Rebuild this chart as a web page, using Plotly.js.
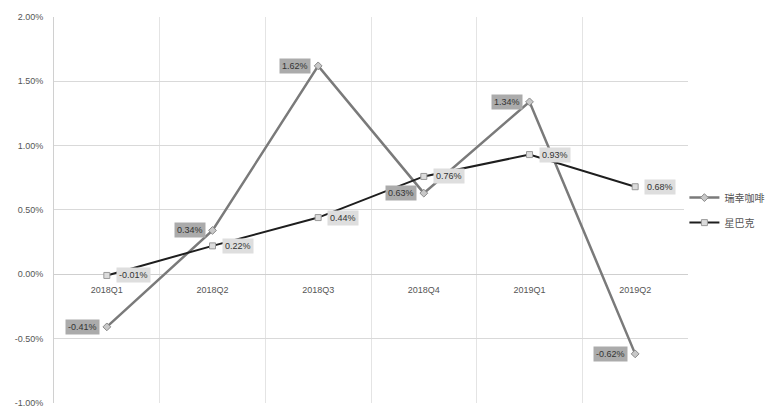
<!DOCTYPE html>
<html>
<head>
<meta charset="utf-8">
<script src="https://cdn.plot.ly/plotly-3.0.1.min.js"></script>
<style>
  html, body { margin: 0; padding: 0; background: #ffffff; }
  #chart { width: 769px; height: 408px; }
</style>
</head>
<body>
<div id="chart"></div>
<script>
// Quarterly growth (%) for two coffee chains
const quarters = ['2018Q1', '2018Q2', '2018Q3', '2018Q4', '2019Q1', '2019Q2'];
const luckinName = '瑞幸咖啡';
const luckinValues = [-0.41, 0.34, 1.62, 0.63, 1.34, -0.62];
const starbucksName = '星巴克';
const starbucksValues = [-0.01, 0.22, 0.44, 0.76, 0.93, 0.68];

const yTickVals = [-1, -0.5, 0, 0.5, 1, 1.5, 2];
const yTickText = ['-1.00%', '-0.50%', '0.00%', '0.50%', '1.00%', '1.50%', '2.00%'];

const fontFamily = '"Liberation Sans", "Noto Sans CJK SC", Arial, sans-serif';
const pct = v => v.toFixed(2) + '%';

const traces = [
  {
    x: quarters, y: luckinValues, name: luckinName, legendgroup: 'a',
    type: 'scatter', mode: 'lines+markers',
    line: { color: '#7a7a7a', width: 2.5 },
    marker: { symbol: 'diamond', size: 6, color: '#c8c8c8', line: { color: '#8a8a8a', width: 1 } },
    hoverinfo: 'skip'
  },
  {
    x: quarters, y: starbucksValues, name: starbucksName, legendgroup: 'b',
    type: 'scatter', mode: 'lines+markers',
    line: { color: '#1e1e1e', width: 2 },
    marker: { symbol: 'square', size: 6, color: '#dcdcdc', line: { color: '#9a9a9a', width: 1 } },
    hoverinfo: 'skip'
  }
];

// Value labels: darker boxes left of the Luckin points, lighter boxes right of the Starbucks points
const annotations = [];
quarters.forEach((q, i) => {
  annotations.push({
    x: q, y: luckinValues[i], xref: 'x', yref: 'y',
    text: pct(luckinValues[i]), showarrow: false,
    xanchor: 'right', yanchor: 'middle', xshift: -7,
    bgcolor: '#ababab', borderpad: 2,
    font: { family: fontFamily, size: 9, color: '#333333' }
  });
  annotations.push({
    x: q, y: starbucksValues[i], xref: 'x', yref: 'y',
    text: pct(starbucksValues[i]), showarrow: false,
    xanchor: 'left', yanchor: 'middle', xshift: 9,
    bgcolor: '#dedede', borderpad: 2,
    font: { family: fontFamily, size: 9, color: '#333333' }
  });
});

const layout = {
  width: 769, height: 408,
  margin: { l: 54, r: 81, t: 17, b: 5, autoexpand: false },
  paper_bgcolor: '#ffffff', plot_bgcolor: '#ffffff',
  font: { family: fontFamily, size: 9, color: '#555555' },
  showlegend: true,
  legend: {
    xref: 'container', yref: 'container',
    x: 0.89, xanchor: 'left', y: 0.485, yanchor: 'middle',
    font: { family: fontFamily, size: 10, color: '#555555' },
    itemwidth: 30, traceorder: 'grouped', tracegroupgap: 6
  },
  xaxis: {
    type: 'category',
    anchor: 'free', position: 1 / 3,
    tickson: 'boundaries',
    showgrid: true, gridcolor: '#e4e4e4', gridwidth: 1,
    showline: false, ticks: '', zeroline: false,
    ticklabelstandoff: 9,
    tickfont: { family: fontFamily, size: 9, color: '#555555' },
    range: [-0.5, 5.5]
  },
  yaxis: {
    range: [-1.002, 2],
    tickvals: yTickVals, ticktext: yTickText,
    showgrid: true, gridcolor: '#d9d9d9', gridwidth: 1,
    zeroline: true, zerolinecolor: '#cfcfcf', zerolinewidth: 1,
    showline: true, linecolor: '#d0d0d0', linewidth: 1,
    ticks: '', ticklabelstandoff: 8,
    tickfont: { family: fontFamily, size: 9, color: '#555555' }
  },
  annotations: annotations
};

Plotly.newPlot('chart', traces, layout, { displayModeBar: false, staticPlot: true });
</script>
</body>
</html>
